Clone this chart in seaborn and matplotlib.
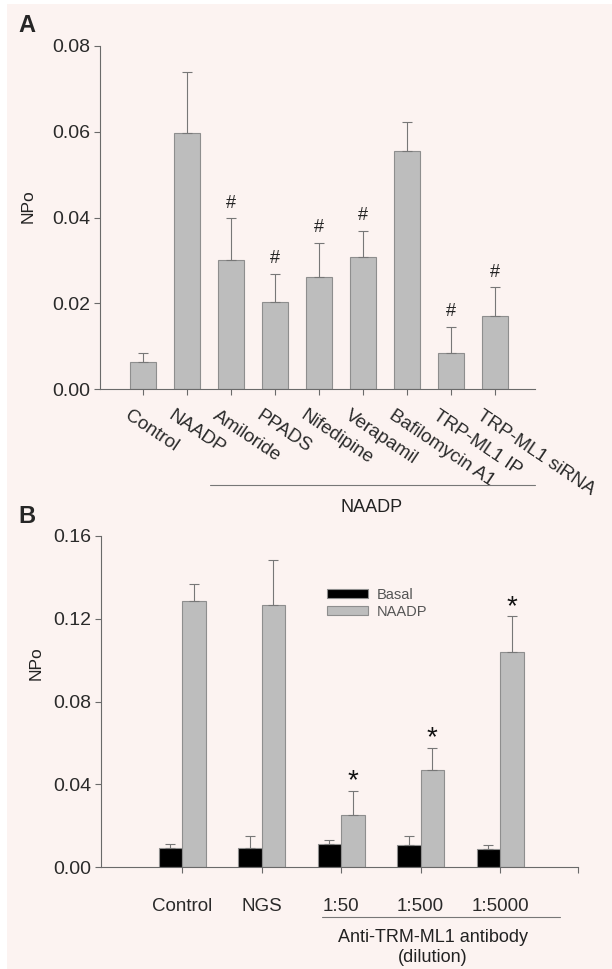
import numpy as np
import pandas as pd
import matplotlib
matplotlib.use('Agg')
import matplotlib.pyplot as plt
import matplotlib.transforms as mtransforms
from matplotlib.lines import Line2D
from matplotlib.patches import Rectangle
from matplotlib.ticker import FormatStrFormatter
import seaborn as sns

# --- Panel A data ---
labels_a = ['Control', 'NAADP', 'Amiloride', 'PPADS', 'Nifedipine', 'Verapamil',
            'Bafilomycin A1', 'TRP-ML1 IP', 'TRP-ML1 siRNA']
npo_a = [0.0063, 0.0598, 0.0302, 0.0203, 0.0262, 0.0308, 0.0554, 0.0083, 0.0171]
err_a = [0.0021, 0.0142, 0.0096, 0.0066, 0.0079, 0.0060, 0.0068, 0.0061, 0.0066]
sig_a = ['', '', '#', '#', '#', '#', '', '#', '#']

# --- Panel B data ---
groups_b = ['Control', 'NGS', '1:50', '1:500', '1:5000']
basal_b = [0.0094, 0.0091, 0.0111, 0.0104, 0.0086]
basal_err = [0.0017, 0.0057, 0.0020, 0.0044, 0.0020]
naadp_b = [0.1287, 0.1267, 0.0249, 0.0468, 0.1040]
naadp_err = [0.0081, 0.0217, 0.0118, 0.0106, 0.0171]
sig_b = ['', '', '*', '*', '*']

BG = '#fcf3f1'
GREY = '#bdbdbd'
EDGE = '#8e8e8e'
AXC = '#6a6a6a'

sns.set_theme(style='ticks')
plt.rcParams['font.family'] = ['Liberation Sans', 'DejaVu Sans']
plt.rcParams['axes.edgecolor'] = AXC
plt.rcParams['axes.linewidth'] = 0.8
plt.rcParams['xtick.color'] = AXC
plt.rcParams['ytick.color'] = AXC
plt.rcParams['xtick.labelcolor'] = '#2a2a2a'
plt.rcParams['ytick.labelcolor'] = '#2a2a2a'

W, H = 612, 969
fig = plt.figure(figsize=(W / 100, H / 100), dpi=100, facecolor='white')
fig.patches.append(Rectangle((7 / W, 0), 1, 1 - 4 / H, transform=fig.transFigure,
                             facecolor=BG, edgecolor='none', zorder=-10))

def px_axes(l, r, t, b):
    return fig.add_axes([l / W, 1 - b / H, (r - l) / W, (b - t) / H])

# ---------------- Panel A ----------------
axA = px_axes(100, 535, 46, 389)
axA.set_facecolor('none')
sns.barplot(x=labels_a, y=npo_a, color=GREY, saturation=1, width=0.59,
            edgecolor=EDGE, linewidth=0.8, errorbar=None, ax=axA)
xs = np.arange(len(labels_a))
axA.errorbar(xs, npo_a, yerr=[np.zeros(len(err_a)), err_a], fmt='none',
             ecolor='#777777', elinewidth=0.8, capsize=3.5, capthick=0.8, zorder=1)
for x, v, e, s in zip(xs, npo_a, err_a, sig_a):
    if s:
        axA.annotate(s, (x, v + e), xytext=(0, 11), textcoords='offset points',
                     ha='center', va='center', fontsize=13, color='#222222')
axA.set_xlim(-0.98, 8.9)
axA.set_ylim(0, 0.08)
axA.set_yticks([0, 0.02, 0.04, 0.06, 0.08])
axA.yaxis.set_major_formatter(FormatStrFormatter('%.2f'))
axA.tick_params(axis='y', labelsize=14, length=4, width=0.8, pad=3)
axA.tick_params(axis='x', labelsize=13.5, length=4, width=0.8, pad=9)
shift = mtransforms.ScaledTranslation(-12 / 100, 0, fig.dpi_scale_trans)
for t in axA.get_xticklabels():
    t.set_rotation(-34)
    t.set_ha('left')
    t.set_va('top')
    t.set_rotation_mode('anchor')
    t.set_transform(t.get_transform() + shift)
axA.set_ylabel('NPo', fontsize=12.5, color='#222222')
axA.yaxis.set_label_coords(-0.147, 0.534)
sns.despine(ax=axA)

fig.add_artist(Line2D([210 / W, 535 / W], [1 - 485 / H, 1 - 485 / H],
                      color='#777777', lw=0.8))
fig.text(372 / W, 1 - 508 / H, 'NAADP', ha='center', va='center', fontsize=13,
         color='#222222')
fig.text(18 / W, 1 - 32 / H, 'A', fontsize=17, fontweight='bold', va='baseline')

# ---------------- Panel B ----------------
df_b = pd.DataFrame({
    'group': groups_b * 2,
    'cond': ['Basal'] * len(groups_b) + ['NAADP'] * len(groups_b),
    'npo': basal_b + naadp_b,
})
axB = px_axes(101, 578, 536, 867)
axB.set_facecolor('none')
sns.barplot(data=df_b, x='group', y='npo', hue='cond',
            palette={'Basal': 'black', 'NAADP': GREY}, saturation=1, width=0.59,
            edgecolor=EDGE, linewidth=0.8, errorbar=None, ax=axB)
for cont, errs in zip(axB.containers, [basal_err, naadp_err]):
    cx = [p.get_x() + p.get_width() / 2 for p in cont]
    cy = [p.get_height() for p in cont]
    axB.errorbar(cx, cy, yerr=[np.zeros(len(errs)), errs], fmt='none',
                 ecolor='#777777', elinewidth=0.8, capsize=3.5, capthick=0.8, zorder=1)
for p, e, s in zip(axB.containers[1], naadp_err, sig_b):
    if s:
        axB.annotate(s, (p.get_x() + p.get_width() / 2, p.get_height() + e),
                     xytext=(0, 7), textcoords='offset points', ha='center',
                     va='center', fontsize=20, color='#111111')
axB.set_xlim(-1.02, 4.98)
axB.set_ylim(0, 0.16)
axB.set_yticks([0, 0.04, 0.08, 0.12, 0.16])
axB.yaxis.set_major_formatter(FormatStrFormatter('%.2f'))
axB.set_xticks([4.98], minor=True)
axB.tick_params(axis='y', labelsize=14, length=4, width=0.8, pad=3)
axB.tick_params(axis='x', which='both', labelsize=13.5, length=4, width=0.8, pad=18)
axB.set_xlabel('')
axB.set_ylabel('NPo', fontsize=12.5, color='#222222')
axB.yaxis.set_label_coords(-0.12, 0.616)
sns.despine(ax=axB)
sns.move_legend(axB, 'upper left', bbox_to_anchor=(327 / W, 1 - 588 / H),
                bbox_transform=fig.transFigure, frameon=False, title=None,
                fontsize=10.5, labelcolor='#555555', handlelength=2.8,
                handleheight=0.6, handletextpad=0.6, labelspacing=0.2,
                borderpad=0, borderaxespad=0)

fig.add_artist(Line2D([322 / W, 560 / W], [1 - 917 / H, 1 - 917 / H],
                      color='#777777', lw=0.8))
fig.text(433 / W, 1 - 937 / H, 'Anti-TRM-ML1 antibody', ha='center', va='center',
         fontsize=13, color='#222222')
fig.text(433 / W, 1 - 958 / H, '(dilution)', ha='center', va='center',
         fontsize=13, color='#222222')
fig.text(18 / W, 1 - 523 / H, 'B', fontsize=17, fontweight='bold', va='baseline')

fig.savefig('out.png', dpi=100, facecolor='white')
